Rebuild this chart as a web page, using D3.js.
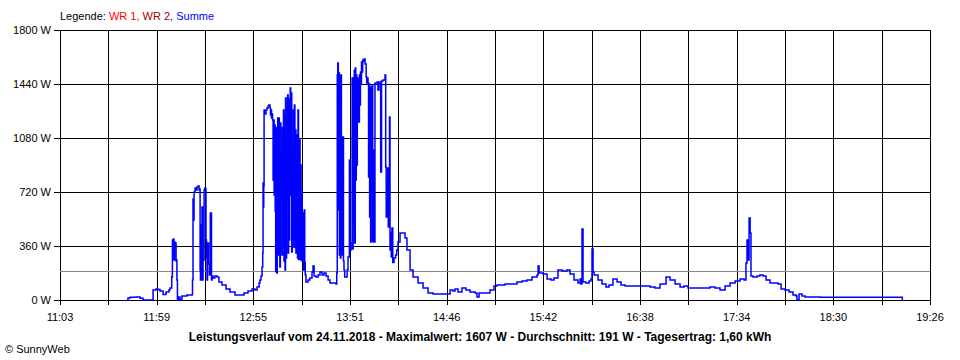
<!DOCTYPE html>
<html lang="de">
<head>
<meta charset="utf-8">
<title>SunnyWeb Leistungsverlauf</title>
<script src="https://d3js.org/d3.v7.min.js"></script>
<style>
body { margin: 0; background: #fff; }
svg text { font-family: "Liberation Sans", Arial, sans-serif; font-size: 11px; fill: #000; }
.title { font-weight: bold; font-size: 12px; }
</style>
</head>
<body>
<div id="chart"></div>
<script>
var width = 960;
var height = 360;
var margin = {top: 30, right: 30, bottom: 60, left: 60};

// Zeitpunkte in Minuten nach Mitternacht, Leistung "Summe" in W
var minutes = [
  701.7, 702.3, 703.5, 706.9, 709.3, 711.0, 716.2, 716.8, 718.5, 719.7,
  720.8, 722.6, 724.3, 726.0, 726.6, 727.6, 728.0, 728.3, 728.6, 728.9,
  729.2, 729.5, 729.8, 730.1, 730.4, 730.6, 730.9, 731.5, 732.4, 733.5,
  736.4, 739.3, 739.6, 739.9, 740.2, 740.5, 741.1, 741.7, 742.2, 742.8,
  743.4, 743.8, 744.0, 744.2, 744.5, 744.8, 745.1, 745.4, 745.7, 746.3,
  746.7, 747.1, 747.4, 747.7, 748.0, 748.3, 748.9, 749.4, 749.9, 750.3,
  750.6, 750.9, 751.5, 752.6, 753.8, 754.9, 756.7, 759.0, 761.3, 764.2,
  767.1, 769.4, 771.7, 774.0, 775.7, 776.9, 778.1, 778.6, 779.2, 779.8,
  780.2, 780.4, 780.6, 780.8, 781.0, 781.5, 782.1, 782.7, 783.3, 783.8,
  784.4, 784.7, 785.0, 785.3, 785.6, 785.9, 786.2, 786.5, 786.8, 787.1,
  787.4, 787.7, 788.0, 788.3, 788.6, 788.9, 789.2, 789.5, 789.8, 790.1,
  790.4, 790.7, 791.0, 791.3, 791.6, 791.9, 792.2, 792.5, 792.8, 793.1,
  793.4, 793.7, 794.0, 794.3, 794.6, 794.9, 795.2, 795.5, 795.8, 796.1,
  796.4, 796.7, 797.0, 797.3, 797.6, 797.9, 798.2, 798.5, 798.8, 799.1,
  799.4, 799.7, 800.0, 800.3, 800.6, 800.9, 801.2, 801.5, 801.8, 802.1,
  802.4, 802.7, 803.0, 803.3, 803.6, 803.9, 804.2, 804.5, 804.8, 805.2,
  806.4, 807.5, 808.7, 809.3, 809.9, 811.0, 812.2, 813.3, 814.5, 815.6,
  816.8, 818.0, 819.1, 820.8, 822.6, 823.0, 823.3, 823.6, 823.9, 824.2,
  824.5, 824.8, 825.1, 825.4, 825.7, 826.0, 826.3, 826.6, 826.9, 827.2,
  827.6, 828.4, 829.0, 829.5, 830.3, 830.7, 831.3, 831.9, 832.2, 832.5,
  832.8, 833.1, 833.4, 833.7, 834.0, 834.3, 834.6, 834.9, 835.2, 835.5,
  835.8, 836.1, 836.4, 836.7, 837.0, 837.3, 837.6, 838.0, 838.4, 838.8,
  839.4, 840.0, 840.3, 840.6, 841.1, 841.4, 841.7, 842.0, 842.3, 842.6,
  842.9, 843.2, 843.5, 843.8, 844.1, 844.5, 845.1, 846.3, 846.8, 847.4,
  848.4, 848.9, 849.7, 850.9, 851.3, 851.6, 851.9, 852.2, 852.5, 852.8,
  853.2, 853.5, 853.8, 854.2, 854.5, 854.9, 855.4, 856.1, 857.0, 857.7,
  858.4, 859.6, 861.3, 862.5, 863.6, 865.4, 867.1, 870.0, 872.9, 875.8,
  878.7, 886.8, 888.5, 890.2, 891.4, 893.1, 895.4, 897.7, 900.1, 903.0,
  904.1, 905.3, 908.7, 911.6, 913.9, 915.7, 920.3, 924.9, 927.2, 930.1,
  933.0, 935.9, 938.8, 939.4, 940.0, 942.3, 944.6, 946.9, 948.6, 950.9,
  953.3, 956.1, 957.9, 960.2, 962.5, 963.7, 964.2, 964.8, 965.4, 967.1,
  968.9, 970.0, 970.6, 971.2, 971.8, 974.1, 976.4, 978.7, 980.4, 982.7,
  985.1, 987.4, 989.7, 995.5, 1001.2, 1004.1, 1007.0, 1009.9, 1013.4, 1015.7,
  1018.6, 1021.5, 1023.8, 1026.1, 1033.0, 1038.8, 1041.7, 1044.6, 1047.5, 1050.4,
  1053.3, 1056.2, 1058.5, 1059.6, 1060.2, 1060.8, 1061.4, 1062.0, 1062.5, 1063.7,
  1066.0, 1067.7, 1069.5, 1071.2, 1073.5, 1075.8, 1078.1, 1079.9, 1082.2, 1084.5,
  1086.8, 1088.6, 1089.1, 1090.3, 1092.0, 1093.8, 1102.4, 1125.6, 1149.8, 1150.0
];
var watts = [
  0, 13, 18, 20, 11, 0, 0, 67, 73, 70,
  60, 37, 53, 67, 80, 155, 400, 300, 407, 267,
  387, 347, 380, 260, 267, 133, 0, 20, 0, 27,
  33, 35, 133, 673, 533, 720, 747, 733, 753, 760,
  733, 740, 200, 133, 500, 187, 620, 133, 267, 733,
  747, 740, 400, 280, 133, 380, 240, 167, 580, 580,
  133, 160, 147, 160, 153, 120, 100, 73, 53, 33,
  33, 47, 60, 73, 67, 87, 113, 133, 160, 220,
  313, 780, 620, 760, 1267, 1240, 1267, 1280, 1293, 1300,
  1280, 1233, 1267, 1213, 1240, 1200, 800, 1200, 700, 1167,
  593, 190, 1150, 180, 713, 1213, 300, 1213, 733, 220,
  1180, 667, 987, 300, 1150, 400, 1267, 260, 1220, 200,
  1347, 280, 1200, 667, 1367, 313, 1340, 400, 1333, 1413,
  700, 1380, 320, 1000, 353, 1267, 400, 1300, 350, 1133,
  313, 1100, 667, 280, 1267, 270, 800, 1067, 270, 900,
  267, 733, 260, 580, 300, 200, 600, 250, 167, 120,
  133, 147, 187, 227, 160, 153, 167, 187, 167, 180,
  160, 133, 113, 113, 107, 180, 1500, 1580, 600, 1513,
  300, 1467, 280, 1500, 350, 1087, 300, 1087, 260, 200,
  153, 153, 200, 287, 933, 333, 380, 1480, 340, 1480,
  500, 1530, 380, 1547, 800, 1500, 900, 1480, 1187, 1450,
  1187, 1500, 1300, 1520, 1440, 1587, 1520, 1600, 1590, 1607,
  1573, 1487, 1447, 1480, 1447, 820, 1440, 553, 1420, 387,
  1400, 700, 1430, 390, 1000, 387, 1447, 1453, 1400, 1453,
  853, 1460, 1467, 1500, 887, 553, 800, 553, 880, 487,
  700, 1220, 333, 450, 287, 480, 250, 280, 300, 333,
  387, 447, 447, 413, 333, 200, 153, 113, 80, 47,
  40, 40, 67, 60, 73, 53, 80, 67, 53, 47,
  20, 47, 47, 67, 93, 100, 107, 107, 120, 127,
  133, 153, 167, 227, 180, 173, 140, 133, 147, 200,
  193, 200, 173, 133, 113, 140, 107, 473, 120, 113,
  127, 140, 340, 187, 167, 133, 107, 87, 100, 140,
  120, 100, 93, 93, 93, 87, 80, 107, 153, 133,
  107, 87, 93, 80, 80, 87, 80, 67, 93, 113,
  127, 140, 133, 247, 400, 267, 547, 447, 160, 153,
  160, 167, 160, 133, 113, 113, 107, 73, 67, 53,
  33, 27, 0, 40, 27, 20, 18, 18, 18, 0
];

var yTicks = [0, 360, 720, 1080, 1440, 1800];
var xLabels = ["11:03", "11:59", "12:55", "13:51", "14:46", "15:42", "16:38", "17:34", "18:30", "19:26"];
var tStart = 663;   // 11:03
var tEnd = 1166;    // 19:26
var average = 191;
var legendItems = [
  {text: "WR 1, ", color: "#ff0000"},
  {text: "WR 2, ", color: "#a00000"},
  {text: "Summe", color: "#0000ff"}
];
var titleText = "Leistungsverlauf vom 24.11.2018 - Maximalwert: 1607 W - Durchschnitt: 191 W - Tagesertrag: 1,60 kWh";

var data = minutes.map(function(t, i) { return {t: t, w: watts[i]}; });

var svg = d3.select("#chart").append("svg")
  .attr("width", width)
  .attr("height", height);

var x = d3.scaleLinear().domain([tStart, tEnd]).range([margin.left, width - margin.right]);
var y = d3.scaleLinear().domain([0, 1800]).range([height - margin.bottom, margin.top]);

// 18 Intervalle, jedes zweite beschriftet
var xTicks = d3.range(19).map(function(i) { return tStart + i * (tEnd - tStart) / 18; });

var grid = svg.append("g")
  .attr("stroke", "#000")
  .attr("stroke-width", 1)
  .attr("shape-rendering", "crispEdges");

grid.selectAll("line.h")
  .data(yTicks)
  .enter().append("line")
  .attr("class", "h")
  .attr("x1", x(tStart) - 6)
  .attr("x2", x(tEnd))
  .attr("y1", function(d) { return Math.round(y(d)) + 0.5; })
  .attr("y2", function(d) { return Math.round(y(d)) + 0.5; });

grid.selectAll("line.v")
  .data(xTicks)
  .enter().append("line")
  .attr("class", "v")
  .attr("x1", function(d) { return Math.round(x(d)) + 0.5; })
  .attr("x2", function(d) { return Math.round(x(d)) + 0.5; })
  .attr("y1", y(1800))
  .attr("y2", y(0) + 5);

// y labels
svg.append("g").selectAll("text")
  .data(yTicks)
  .enter().append("text")
  .attr("x", x(tStart) - 9)
  .attr("y", function(d) { return y(d) + 4; })
  .attr("text-anchor", "end")
  .text(function(d) { return d + " W"; });

// x labels
svg.append("g").selectAll("text")
  .data(xTicks.filter(function(d, i) { return i % 2 === 0; }))
  .enter().append("text")
  .attr("x", function(d) { return x(d); })
  .attr("y", y(0) + 21)
  .attr("text-anchor", "middle")
  .text(function(d, i) { return xLabels[i]; });

// Durchschnitt
svg.append("line")
  .attr("x1", x(tStart))
  .attr("x2", x(tEnd))
  .attr("y1", Math.round(y(average)) + 0.5)
  .attr("y2", Math.round(y(average)) + 0.5)
  .attr("stroke", "#888")
  .attr("shape-rendering", "crispEdges");

var line = d3.line()
  .x(function(d) { return x(d.t); })
  .y(function(d) { return y(d.w); })
  .curve(d3.curveStepAfter);

svg.append("path")
  .datum(data)
  .attr("fill", "none")
  .attr("stroke", "#0000ff")
  .attr("stroke-width", 1.5)
  .attr("d", line);

// Legende
var leg = svg.append("text")
  .attr("x", x(tStart))
  .attr("y", 20);
leg.append("tspan").text("Legende: ");
leg.selectAll("tspan.item")
  .data(legendItems)
  .enter().append("tspan")
  .attr("class", "item")
  .style("fill", function(d) { return d.color; })
  .text(function(d) { return d.text; });

svg.append("text")
  .attr("class", "title")
  .attr("x", width / 2)
  .attr("y", 341)
  .attr("text-anchor", "middle")
  .text(titleText);

svg.append("text")
  .attr("x", 5)
  .attr("y", 353)
  .text("\u00a9 SunnyWeb");
</script>
</body>
</html>
